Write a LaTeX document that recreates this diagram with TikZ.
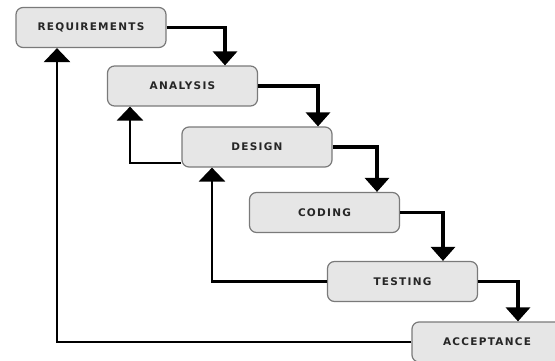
\documentclass[tikz,border=0pt]{standalone}
\usepackage{fontspec}
\usetikzlibrary{arrows.meta}
\newfontfamily\stagefont{DejaVu Sans}[LetterSpace=12]
\definecolor{boxgray}{HTML}{E6E6E6}
\definecolor{edgegray}{HTML}{7A7A7A}
\tikzset{
  stage/.style={draw=edgegray, fill=boxgray, line width=1.2pt, rounded corners=7pt,
    minimum width=150pt, minimum height=40pt, inner sep=0pt,
    font=\stagefont\bfseries\fontsize{10.5}{12}\selectfont, text=black!85},
  fwd/.style={line width=3.2pt, -{Triangle[width=24pt,length=14pt]}},
  back/.style={line width=2.8pt, -{Triangle[width=26pt,length=14pt]}}
}
\begin{document}
\begin{tikzpicture}[x=1pt,y=-1pt]
\useasboundingbox (0,0) rectangle (555,360);

% Stages
\node[stage] (req) at (91,27.5) {REQUIREMENTS};
\node[stage] (ana) at (182.5,86) {ANALYSIS};
\node[stage] (des) at (257,147) {DESIGN};
\node[stage] (cod) at (324.5,212.5) {CODING};
\node[stage] (tst) at (402.5,281.5) {TESTING};
\node[stage] (acc) at (487,342) {ACCEPTANCE};

% Forward flow
\draw[fwd] (req.east) -| ([xshift=42.5pt]ana.north);
\draw[fwd] (ana.east) -| ([xshift=61pt]des.north);
\draw[fwd] (des.east) -| ([xshift=52.5pt]cod.north);
\draw[fwd] (cod.east) -| ([xshift=40.5pt]tst.north);
\draw[fwd] (tst.east) -| ([xshift=31pt]acc.north);

% Feedback
\draw[back] ([yshift=-16pt]des.west) -| ([xshift=-52.5pt]ana.south);
\draw[back] (tst.west) -| ([xshift=-45pt]des.south);
\draw[back] (acc.west) -| ([xshift=-34pt]req.south);
\end{tikzpicture}
\end{document}
